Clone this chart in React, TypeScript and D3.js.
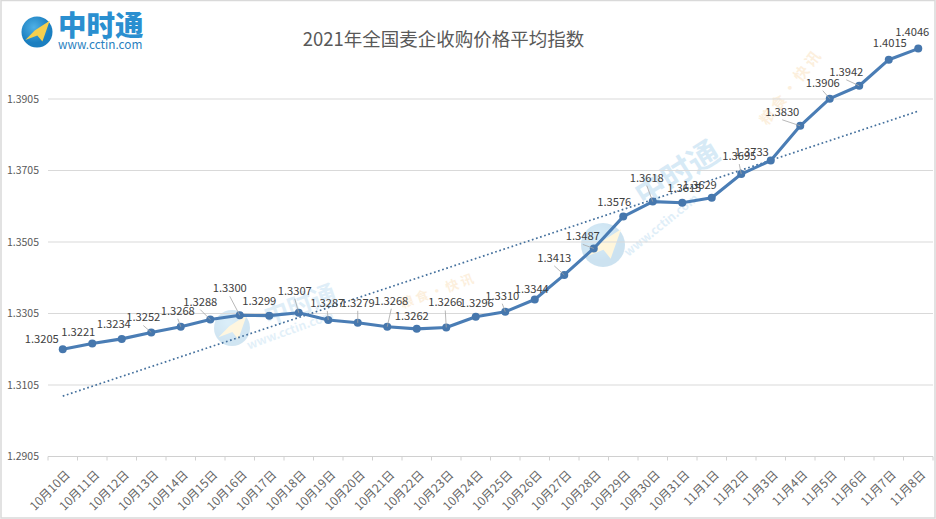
import React, { useEffect, useRef } from 'react';
import * as d3 from 'd3';

const title = '2021年全国麦企收购价格平均指数';

const dates = [
  '10月10日', '10月11日', '10月12日', '10月13日', '10月14日', '10月15日',
  '10月16日', '10月17日', '10月18日', '10月19日', '10月20日', '10月21日',
  '10月22日', '10月23日', '10月24日', '10月25日', '10月26日', '10月27日',
  '10月28日', '10月29日', '10月30日', '10月31日', '11月1日', '11月2日',
  '11月3日', '11月4日', '11月5日', '11月6日', '11月7日', '11月8日',
];

const values = [
  1.3205, 1.3221, 1.3234, 1.3252, 1.3268, 1.3288, 1.33, 1.3299, 1.3307, 1.3287,
  1.3279, 1.3268, 1.3262, 1.3266, 1.3296, 1.331, 1.3344, 1.3413, 1.3487, 1.3576,
  1.3618, 1.3615, 1.3629, 1.3695, 1.3733, 1.383, 1.3906, 1.3942, 1.4015, 1.4046,
];

// dotted trend line, first and last point
const trendValues = [1.3074, 1.3871];

const yTicks = [1.2905, 1.3105, 1.3305, 1.3505, 1.3705, 1.3905];

// where each value label sits relative to its point, hand placed like the original
const labelDx = [
  -21, -14, -8, -8, -3, -10, -10, -10, -4, -1, 0, 4, -5, -1, 1, -3, -3, -10, -11, -9,
  -6, 2, -12, -2, -19, -18, -7, -13, 1, -6,
];
const labelDy = [
  -10, -12, -15, -15, -16, -18, -27, -15, -22, -17, -20, -26, -13, -25, -14, -16, -11, -17, -12, -15,
  -24, -15, -13, -18, -9, -14, -16, -14, -17, -17,
];
// points whose label has a leader line
const leaders = [3, 4, 5, 6, 8, 9, 10, 11, 13, 15, 17, 18, 20, 23, 25, 26, 27];

const App: React.FC = () => {
  const svgRef = useRef<SVGSVGElement>(null);

  useEffect(() => {
    if (!svgRef.current) return;

    const width = 936;
    const height = 519;
    const left = 48;
    const right = 933;
    const textColor = '#595959';
    const font = '"Noto Sans CJK SC", "Noto Sans", sans-serif';

    const svg = d3.select(svgRef.current);
    svg.selectAll('*').remove();
    svg.attr('width', width).attr('height', height).style('font-family', font);

    const x = d3.scaleBand<string>().domain(dates).range([left, right]);
    const y = d3.scaleLinear().domain([1.2905, 1.3905]).range([456.5, 99]);
    const px = (i: number) => (x(dates[i]) as number) + x.bandwidth() / 2;

    svg.append('rect')
      .attr('x', 1).attr('y', 0.5).attr('width', width - 2).attr('height', height - 1.5)
      .attr('fill', '#fff').attr('stroke', '#d9d9d9').attr('stroke-width', 1.5);

    // Watermarks
    const defs = svg.append('defs');
    const globe = defs.append('radialGradient').attr('id', 'globe').attr('cx', '40%').attr('cy', '35%');
    globe.append('stop').attr('offset', '0%').attr('stop-color', '#4fb0e6');
    globe.append('stop').attr('offset', '100%').attr('stop-color', '#1b7fc0');

    const mark = (cx: number, cy: number, r: number, opacity: number, rocket: string) => {
      const g = svg.append('g').attr('transform', `translate(${cx},${cy})`).attr('opacity', opacity);
      g.append('circle').attr('r', r).attr('fill', 'url(#globe)');
      g.append('path')
        .attr('d', `M${r * 0.82} ${-r * 0.72} L${r * 0.35} ${r * 0.62} L${r * 0.02} ${r * 0.22} L${-r * 0.75} ${r * 0.52} L${-r * 0.15} ${-r * 0.1} Z`)
        .attr('fill', rocket);
    };
    mark(232, 328, 18, 0.2, '#ffd766');
    mark(603, 245, 22, 0.22, '#ffd766');

    const wmText = (tx: number, ty: number, rot: number, size: number, text: string, color: string, op: number) => {
      svg.append('text')
        .attr('transform', `translate(${tx},${ty}) rotate(${rot})`)
        .attr('text-anchor', 'middle')
        .attr('dy', '0.36em')
        .attr('font-size', size)
        .attr('font-weight', 700)
        .attr('fill', color)
        .attr('opacity', op)
        .text(text);
    };
    wmText(300, 305, -20, 25, '中时通', '#3d9ad6', 0.16);
    wmText(290, 330, -20, 12, 'www.cctin.com', '#3d9ad6', 0.14);
    wmText(677, 173, -32, 31, '中时通', '#3d9ad6', 0.2);
    wmText(661, 225, -39, 12, 'www.cctin.com', '#3d9ad6', 0.16);
    wmText(437, 291, -20, 13, '粮 食 · 快 讯', '#f2b45c', 0.2);
    wmText(790, 88, -52, 15, '粮 食 · 快 讯', '#f2b45c', 0.2);

    // Grid
    svg.append('g')
      .selectAll('line')
      .data(yTicks.slice(1))
      .join('line')
      .attr('x1', left).attr('x2', right)
      .attr('y1', (d) => y(d)).attr('y2', (d) => y(d))
      .attr('stroke', '#d9d9d9').attr('stroke-width', 1);

    // Y axis labels
    const yAxis = svg.append('g')
      .attr('transform', `translate(${left - 9},0)`)
      .call(d3.axisLeft(y).tickValues(yTicks).tickFormat(d3.format('.4f')).tickSize(0));
    yAxis.select('.domain').remove();
    yAxis.selectAll('text')
      .attr('x', 0)
      .attr('font-family', font)
      .attr('font-size', 10.5)
      .attr('fill', textColor);

    // X axis, ticks sit on the band edges
    const axisY = y(yTicks[0]);
    svg.append('line')
      .attr('x1', left).attr('x2', right).attr('y1', axisY).attr('y2', axisY)
      .attr('stroke', '#d0d0d0').attr('stroke-width', 1);
    svg.append('g')
      .selectAll('line')
      .data([...dates.map((d) => x(d) as number), right])
      .join('line')
      .attr('x1', (d) => d).attr('x2', (d) => d)
      .attr('y1', axisY).attr('y2', axisY + 4)
      .attr('stroke', '#d0d0d0');
    svg.append('g')
      .selectAll('text')
      .data(dates)
      .join('text')
      .attr('transform', (_, i) => `translate(${px(i) + 8},${axisY + 19}) rotate(-45)`)
      .attr('text-anchor', 'end')
      .attr('font-size', 12)
      .attr('fill', '#666')
      .text((d) => d);

    // Trend
    const trendX = [px(0), px(dates.length - 1)];
    svg.append('path')
      .attr('d', d3.line<number>().x((_, i) => trendX[i]).y((d) => y(d))(trendValues) as string)
      .attr('fill', 'none')
      .attr('stroke', '#44709d')
      .attr('stroke-width', 1.7)
      .attr('stroke-dasharray', '1.7 2.6');

    // Series
    svg.append('path')
      .attr('d', d3.line<number>().x((_, i) => px(i)).y((d) => y(d))(values) as string)
      .attr('fill', 'none')
      .attr('stroke', '#4a7db5')
      .attr('stroke-width', 3.1)
      .attr('stroke-linejoin', 'round');
    svg.append('g')
      .selectAll('circle')
      .data(values)
      .join('circle')
      .attr('cx', (_, i) => px(i))
      .attr('cy', (d) => y(d))
      .attr('r', 4)
      .attr('fill', '#4677ad');

    // Leader lines
    svg.append('g')
      .selectAll('line')
      .data(leaders)
      .join('line')
      .attr('x1', (i) => px(i) + labelDx[i])
      .attr('y1', (i) => y(values[i]) + labelDy[i] + 8)
      .attr('x2', (i) => px(i))
      .attr('y2', (i) => y(values[i]))
      .attr('stroke', '#a6a6a6')
      .attr('stroke-width', 0.8);

    // Value labels
    svg.append('g')
      .selectAll('text')
      .data(values)
      .join('text')
      .attr('x', (_, i) => px(i) + labelDx[i])
      .attr('y', (d, i) => y(d) + labelDy[i])
      .attr('dy', '0.36em')
      .attr('text-anchor', 'middle')
      .attr('font-size', 11.2)
      .attr('fill', '#404040')
      .text((d) => d3.format('.4f')(d));

    // Title
    svg.append('text')
      .attr('x', 443.5)
      .attr('y', 39)
      .attr('dy', '0.36em')
      .attr('text-anchor', 'middle')
      .attr('font-size', 18.5)
      .attr('fill', textColor)
      .text(title);

    // Logo
    mark(37, 32, 15.5, 1, '#f7cf4d');
    svg.append('text')
      .attr('x', 58).attr('y', 36)
      .attr('font-size', 28.5).attr('font-weight', 900)
      .attr('fill', '#2a8fd0')
      .text('中时通');
    svg.append('text')
      .attr('x', 58).attr('y', 49)
      .attr('font-size', 11.8)
      .attr('fill', '#2a7fc0')
      .text('www.cctin.com');
  }, []);

  return <svg ref={svgRef} style={{ position: 'fixed', left: 0, top: 0, display: 'block' }} />;
};

export default App;
